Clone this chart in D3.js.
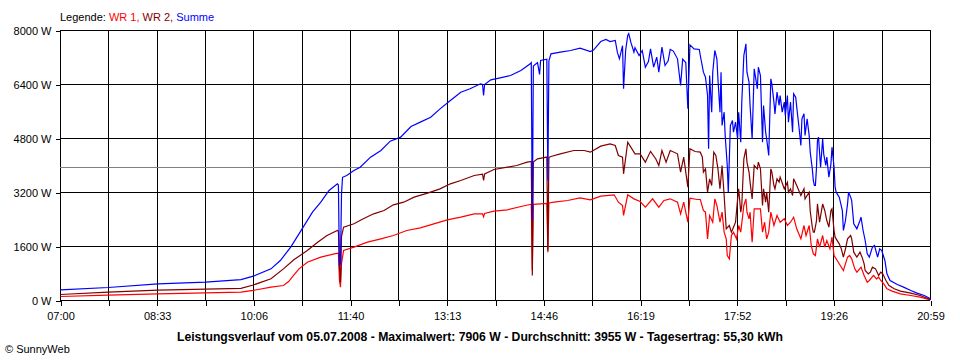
<!DOCTYPE html>
<html><head><meta charset="utf-8">
<script src="https://cdn.jsdelivr.net/npm/d3@7"></script>
<style>
html,body{margin:0;padding:0;background:#fff;}
svg{display:block;font-family:"Liberation Sans",Arial,sans-serif;}
</style></head>
<body><svg id="c" width="960" height="360"></svg>
<script>
// ---- data ----
const yTickValues = [0, 1600, 3200, 4800, 6400, 8000];
const xTickLabels = ["07:00","08:33","10:06","11:40","13:13","14:46","16:19","17:52","19:26","20:59"];
const legendItems = ["WR 1", "WR 2", "Summe"];
const titleText = "Leistungsverlauf vom 05.07.2008 - Maximalwert: 7906 W - Durchschnitt: 3955 W - Tagesertrag: 55,30 kWh";
const averageW = 3955;

const wr1 = [["07:00",118],["07:46",158],["08:34",198],["09:20",227],["09:54",247],["10:06",300],["10:23",395],["10:35",444],["10:40",560],["10:45",750],["10:50",938],["10:58",1136],["11:11",1284],["11:24",1383],["11:28",1400],["11:29",600],["11:30",395],["11:31",1100],["11:33",1481],["11:43",1580],["11:56",1728],["12:09",1827],["12:21",1926],["12:34",2074],["12:47",2153],["13:00",2272],["13:13",2390],["13:26",2469],["13:39",2568],["13:47",2570],["13:48",2480],["13:49",2580],["13:58",2647],["14:11",2686],["14:24",2785],["14:33",2844],["14:34",2850],["14:35",900],["14:36",2850],["14:43",2864],["14:49",2880],["14:50",1431],["14:51",2890],["14:56",2913],["15:09",2963],["15:21",3042],["15:31",2983],["15:41",3091],["15:54",3131],["15:58",2913],["16:02",2815],["16:03",2519],["16:07",3131],["16:13",3012],["16:19",2933],["16:24",2765],["16:31",3013],["16:37",2765],["16:42",2963],["16:48",3013],["16:55",2913],["16:58",2568],["17:01",2913],["17:05",2320],["17:07",3032],["17:14",2993],["17:17",2993],["17:20",2667],["17:22",2617],["17:24",1827],["17:26",2519],["17:29",2320],["17:31",3013],["17:33",2815],["17:36",2320],["17:38",2617],["17:40",2025],["17:42",1827],["17:43",1333],["17:45",1235],["17:47",1926],["17:49",2025],["17:52",1827],["17:54",2222],["17:56",2025],["17:59",2815],["18:01",3013],["18:02",2617],["18:04",2420],["18:05",2617],["18:07",1728],["18:09",2716],["18:12",2716],["18:15",2716],["18:17",2025],["18:19",2320],["18:21",1827],["18:23",2025],["18:25",2617],["18:28",2222],["18:31",2519],["18:34",2320],["18:38",2420],["18:41",2222],["18:44",2320],["18:47",2469],["18:50",2124],["18:54",1827],["18:57",2222],["18:59",1926],["19:02",2222],["19:04",1630],["19:06",1383],["19:08",1333],["19:10",1827],["19:12",1580],["19:15",1926],["19:17",1580],["19:19",1778],["19:22",1531],["19:24",1876],["19:26",1333],["19:29",1185],["19:32",1037],["19:35",889],["19:36",988],["19:39",1284],["19:41",1333],["19:43",1235],["19:46",938],["19:48",840],["19:52",988],["19:55",741],["19:58",543],["20:00",593],["20:04",741],["20:07",642],["20:09",691],["20:11",593],["20:14",494],["20:17",346],["20:22",277],["20:30",198],["20:40",148],["20:49",99],["20:59",20]];

const wr2 = [["07:00",178],["07:46",247],["08:34",306],["09:20",336],["09:54",360],["10:06",460],["10:23",642],["10:35",938],["10:45",1205],["10:58",1481],["11:08",1728],["11:17",1926],["11:27",2074],["11:28",2050],["11:29",1000],["11:30",543],["11:31",1900],["11:33",2173],["11:43",2272],["11:52",2420],["12:02",2568],["12:12",2667],["12:21",2835],["12:31",2913],["12:41",3062],["12:54",3180],["13:06",3309],["13:16",3457],["13:26",3556],["13:39",3704],["13:47",3740],["13:48",3556],["13:49",3750],["13:58",3881],["14:11",3950],["14:20",4000],["14:30",4099],["14:34",4120],["14:35",741],["14:36",4100],["14:40",4198],["14:49",4250],["14:50",1481],["14:51",4240],["14:53",4267],["15:02",4346],["15:15",4444],["15:25",4444],["15:31",4395],["15:41",4573],["15:50",4642],["15:55",4594],["15:58",4296],["16:02",4247],["16:03",3753],["16:07",4691],["16:10",4543],["16:14",4346],["16:19",4346],["16:24",4099],["16:29",4420],["16:34",4200],["16:37",4000],["16:40",4444],["16:44",4099],["16:48",4444],["16:55",4346],["16:58",3803],["17:01",4247],["17:05",3358],["17:07",4494],["17:12",4415],["17:17",4395],["17:19",4247],["17:20",3803],["17:22",3901],["17:24",3210],["17:26",3605],["17:28",3407],["17:30",4395],["17:32",4296],["17:34",3901],["17:36",3309],["17:38",4000],["17:40",3111],["17:41",2617],["17:42",2124],["17:45",2222],["17:47",2025],["17:49",2173],["17:51",2320],["17:53",3012],["17:54",3309],["17:56",2617],["17:57",2815],["17:59",4198],["18:01",4494],["18:02",4099],["18:04",3803],["18:05",3506],["18:07",3012],["18:09",4000],["18:12",3901],["18:13",4099],["18:15",3901],["18:17",2815],["18:18",3309],["18:20",2913],["18:21",3210],["18:23",2617],["18:25",3901],["18:26",3803],["18:28",3407],["18:29",3309],["18:31",3605],["18:33",3506],["18:34",3655],["18:38",3309],["18:41",3506],["18:42",3210],["18:44",3309],["18:46",3111],["18:47",3605],["18:50",3407],["18:54",3111],["18:57",3309],["18:58",3012],["19:02",3210],["19:03",2650],["19:05",2173],["19:06",2025],["19:07",2025],["19:09",2350],["19:10",2864],["19:12",2321],["19:15",2864],["19:17",2667],["19:19",2370],["19:21",2173],["19:23",2667],["19:24",2716],["19:26",2074],["19:27",1876],["19:31",1679],["19:33",1531],["19:35",1284],["19:37",1531],["19:39",1827],["19:42",1926],["19:43",1827],["19:45",1432],["19:48",1284],["19:51",1432],["19:53",1284],["19:55",1086],["19:56",889],["19:59",790],["20:01",839],["20:03",988],["20:06",938],["20:09",741],["20:11",839],["20:13",790],["20:16",593],["20:19",444],["20:24",346],["20:30",277],["20:40",217],["20:49",148],["20:59",30]];

const summe = [["07:00",317],["07:46",385],["08:34",494],["09:20",543],["09:54",620],["10:06",720],["10:23",938],["10:32",1185],["10:42",1580],["10:53",2124],["11:03",2617],["11:11",2913],["11:19",3259],["11:27",3457],["11:28",3420],["11:29",1037],["11:30",1100],["11:31",3160],["11:32",3650],["11:36",3704],["11:43",3852],["11:49",3950],["11:59",4247],["12:09",4444],["12:18",4721],["12:28",4840],["12:38",5156],["12:47",5284],["12:57",5432],["13:06",5679],["13:16",5926],["13:26",6172],["13:35",6272],["13:45",6420],["13:47",6400],["13:48",6074],["13:49",6400],["13:55",6538],["14:04",6597],["14:14",6667],["14:24",6815],["14:33",7013],["14:34",7050],["14:35",2370],["14:36",6950],["14:40",7050],["14:42",6700],["14:43",7111],["14:49",7150],["14:50",3555],["14:51",7100],["14:53",7309],["15:02",7358],["15:12",7407],["15:21",7476],["15:31",7378],["15:34",7420],["15:41",7674],["15:46",7733],["15:50",7674],["15:55",7704],["15:57",7358],["15:59",7161],["16:02",7550],["16:03",6272],["16:05",7407],["16:07",7852],["16:08",7906],["16:10",7654],["16:13",7358],["16:14",7490],["16:18",7259],["16:21",7407],["16:24",6913],["16:27",7080],["16:29",7457],["16:32",6913],["16:35",7210],["16:37",6765],["16:40",7506],["16:43",6963],["16:46",7100],["16:48",7437],["16:51",7390],["16:55",7161],["16:58",6370],["17:00",7150],["17:03",7050],["17:05",5679],["17:07",7575],["17:11",7457],["17:16",7437],["17:17",7259],["17:20",6765],["17:22",6617],["17:24",6074],["17:25",4494],["17:26",6667],["17:28",5580],["17:29",6765],["17:31",7407],["17:33",7161],["17:34",6568],["17:36",5580],["17:37",6765],["17:38",5185],["17:40",5580],["17:41",4889],["17:43",4000],["17:44",3210],["17:46",5185],["17:48",5333],["17:49",4990],["17:51",5284],["17:53",4790],["17:54",5580],["17:56",4691],["17:57",5877],["17:59",7259],["18:01",7605],["18:02",6765],["18:04",6469],["18:05",5778],["18:07",4790],["18:09",6864],["18:10",6667],["18:12",6272],["18:13",6913],["18:15",6667],["18:17",4691],["18:18",5778],["18:20",4990],["18:21",4790],["18:23",4296],["18:25",6568],["18:26",6420],["18:28",5877],["18:29",5531],["18:31",6173],["18:33",5778],["18:34",6074],["18:36",5580],["18:38",5877],["18:39",5481],["18:41",6074],["18:42",5284],["18:44",5877],["18:46",4988],["18:47",6123],["18:49",6025],["18:50",5729],["18:52",5185],["18:54",4593],["18:55",5383],["18:57",5531],["18:58",4889],["19:00",5383],["19:02",4889],["19:03",4400],["19:05",3902],["19:06",3556],["19:07",3407],["19:08",3407],["19:09",3901],["19:10",4741],["19:11",4840],["19:13",3950],["19:15",4790],["19:16",4346],["19:18",4000],["19:19",4247],["19:21",3654],["19:23",4049],["19:24",4543],["19:26",3950],["19:27",3358],["19:28",3210],["19:31",3062],["19:34",2667],["19:35",2074],["19:37",2370],["19:39",2864],["19:40",3210],["19:42",3062],["19:43",2963],["19:45",2272],["19:48",2124],["19:51",2370],["19:52",2469],["19:54",2074],["19:56",1778],["19:58",1383],["20:00",1284],["20:03",1580],["20:05",1630],["20:08",1284],["20:10",1531],["20:12",1481],["20:15",1185],["20:17",790],["20:20",593],["20:27",474],["20:33",395],["20:40",296],["20:46",217],["20:53",148],["20:59",49]];

// ---- drawing ----
const svg = d3.select("#c");
const W = 960, H = 360;
const m = {left: 60, right: 30, top: 30, bottom: 60};
const toMin = s => { const [h, mm] = s.split(":").map(Number); return h * 60 + mm; };
const tStart = toMin(xTickLabels[0]), tEnd = toMin(xTickLabels[xTickLabels.length - 1]);

const x = d3.scaleLinear().domain([tStart, tEnd]).range([m.left, W - m.right]);
const y = d3.scaleLinear().domain([0, 8000]).range([H - m.bottom, m.top]);

const nInt = (xTickLabels.length - 1) * 2;
const xTicks = d3.range(nInt + 1).map(i => tStart + i * (tEnd - tStart) / nInt);

svg.append("rect").attr("width", W).attr("height", H).attr("fill", "#fff");

// grid
const g = svg.append("g").attr("shape-rendering", "crispEdges");
g.selectAll("line.v").data(xTicks).join("line")
  .attr("x1", d => Math.round(x(d)) + 0.5).attr("x2", d => Math.round(x(d)) + 0.5)
  .attr("y1", y(8000)).attr("y2", y(0))
  .attr("stroke", "#000").attr("stroke-width", 1);
g.selectAll("line.h").data(yTickValues).join("line")
  .attr("x1", x(tStart)).attr("x2", x(tEnd))
  .attr("y1", d => Math.round(y(d)) + 0.5).attr("y2", d => Math.round(y(d)) + 0.5)
  .attr("stroke", "#000").attr("stroke-width", 1);
// average line
g.append("line")
  .attr("x1", x(tStart)).attr("x2", x(tEnd))
  .attr("y1", Math.round(y(averageW)) + 0.5).attr("y2", Math.round(y(averageW)) + 0.5)
  .attr("stroke", "#808080").attr("stroke-width", 1);

// axes
const yAxis = d3.axisLeft(y).tickValues(yTickValues).tickSize(5).tickPadding(4)
  .tickFormat(d => d + " W");
const ya = svg.append("g").attr("transform", `translate(${m.left + 0.5},0.5)`).call(yAxis);
ya.select(".domain").remove();
ya.selectAll("line").attr("shape-rendering", "crispEdges");
ya.selectAll("text").attr("font-size", 11).attr("fill", "#000")
  .attr("font-family", "'Liberation Sans', Arial, sans-serif");

const xAxis = d3.axisBottom(x).tickValues(xTicks).tickSize(5).tickPadding(7)
  .tickFormat((d, i) => i % 2 === 0 ? xTickLabels[i / 2] : "");
const xa = svg.append("g").attr("transform", `translate(0.5,${H - m.bottom + 0.5})`).call(xAxis);
xa.select(".domain").remove();
xa.selectAll("line").attr("shape-rendering", "crispEdges");
xa.selectAll("text").attr("font-size", 11).attr("fill", "#000")
  .attr("font-family", "'Liberation Sans', Arial, sans-serif");

// series
const line = d3.line().x(d => x(toMin(d[0])) + 0.5).y(d => y(d[1]) + 0.5).curve(d3.curveLinear);
const series = [
  {data: wr1, color: "#ff0000"},
  {data: wr2, color: "#800000"},
  {data: summe, color: "#0000ff"}
];
svg.append("g").selectAll("path").data(series).join("path")
  .attr("d", d => line(d.data))
  .attr("fill", "none").attr("stroke", d => d.color).attr("stroke-width", 1.2)
  .attr("stroke-linejoin", "miter");

// legend
const legColors = ["#ff0000", "#800000", "#0000ff"];
const leg = svg.append("text").attr("x", 60).attr("y", 21).attr("font-size", 11);
leg.append("tspan").attr("fill", "#000").text("Legende: ");
legendItems.forEach((t, i) => {
  leg.append("tspan").attr("fill", legColors[i]).text(t + (i < legendItems.length - 1 ? ", " : ""));
});

// title
svg.append("text").attr("x", 480).attr("y", 341).attr("text-anchor", "middle")
  .attr("font-size", 12.2).attr("font-weight", "bold").attr("fill", "#000").text(titleText);

// copyright
svg.append("text").attr("x", 5).attr("y", 353).attr("font-size", 11).attr("fill", "#000")
  .text("© SunnyWeb");
</script>
</body></html>
